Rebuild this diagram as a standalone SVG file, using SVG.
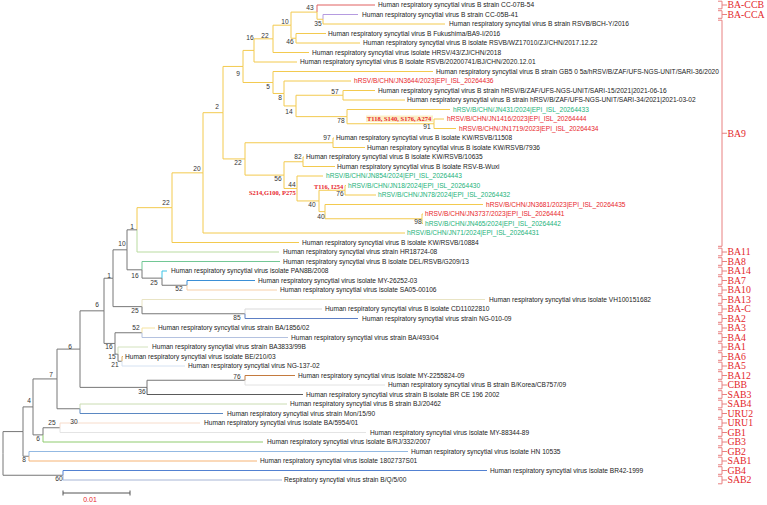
<svg xmlns="http://www.w3.org/2000/svg" width="767" height="505" viewBox="0 0 767 505">
<style>
text{font-family:"Liberation Sans",Arial,sans-serif;}
.lf{font-size:6.6px;fill:#222;}
.lr{font-size:6.6px;fill:#e8262b;}
.lg{font-size:6.6px;fill:#22b27a;}
.bs{font-size:6.6px;fill:#333;text-anchor:middle;}
.mut{font-family:"Liberation Serif","Times New Roman",serif;font-weight:bold;font-size:6.5px;fill:#e8262b;}
.cl{font-family:"Liberation Serif","Times New Roman",serif;font-size:9.8px;fill:#e3262b;}
path{fill:none;stroke-width:1;}
.y{stroke:#f3ca4f;}
.g{stroke:#777;}
.br{stroke:#e88080;}
</style>
<rect width="767" height="505" fill="#fff"/>
<g id="connectors">
<path class="y" d="M323 19.25V24H445"/>
<path d="M323 19.25V14.5H358" stroke="#b59be0"/>
<path d="M317 12.1V5H375" stroke="#e06060"/>
<path class="y" d="M317 12.1V19.25H323"/>
<path class="y" d="M291 25.2V12.1H317M291 25.2V38.25H296"/>
<path class="y" d="M296 38.25V33.5H326M296 38.25V43H360"/>
<path class="y" d="M273 38.84V25.2H291M273 38.84V52.5H309"/>
<path class="y" d="M254 50.42V38.84H273M254 50.42V62H297"/>
<path class="y" d="M243 66.45V50.42H254M243 66.45V82.49H273"/>
<path class="y" d="M273 82.49V71.5H433M273 82.49V93.47H284"/>
<path class="y" d="M284 93.47V81H351M284 93.47V105.94H296"/>
<path class="y" d="M296 105.94V95.25H343M296 105.94V116.63H347"/>
<path class="y" d="M343 95.25V90.5H375M343 95.25V100H405"/>
<path class="y" d="M347 116.63V109.5H450M347 116.63V123.75H434"/>
<path class="y" d="M434 123.75V119H444M434 123.75V128.5H456"/>
<path class="y" d="M223 112.69V66.45H243M223 112.69V158.93H245"/>
<path class="y" d="M245 158.93V142.75H333M245 158.93V175.11H284"/>
<path class="y" d="M333 142.75V138H334M333 142.75V147.5H365"/>
<path class="y" d="M284 175.11V161.75H303M284 175.11V188.47H297"/>
<path class="y" d="M303 161.75V157H304M303 161.75V166.5H335"/>
<path class="y" d="M297 188.47V176H323M297 188.47V200.94H319"/>
<path class="y" d="M319 200.94V190.25H345M319 200.94V211.63H325"/>
<path class="y" d="M345 190.25V185.5H346M345 190.25V195H376"/>
<path class="y" d="M325 211.63V204.5H483M325 211.63V218.75H422"/>
<path class="y" d="M422 218.75V214H423M422 218.75V223.5H423"/>
<path class="y" d="M203 172.85V112.69H223M203 172.85V233H405"/>
<path class="y" d="M172 207.67V172.85H203M172 207.67V242.5H299"/>
<path class="y" d="M137 229.84V207.67H172"/>
<path d="M137 229.84V252H279" stroke="#b9dba0"/>
<path class="g" d="M127 249.82V229.84H137M127 249.82V269.81H142"/>
<path d="M142 269.81V261.5H280" stroke="#72c795"/>
<path class="g" d="M142 269.81V278.13H162"/>
<path d="M162 278.13V271H167" stroke="#3cc3e6"/>
<path class="g" d="M162 278.13V285.25H187"/>
<path d="M187 285.25V280.5H255" stroke="#3b8fd6"/>
<path d="M187 285.25V290H277" stroke="#f7cfa8"/>
<path class="g" d="M113 278.22V249.82H127M113 278.22V306.63H142"/>
<path d="M142 306.63V299.5H485" stroke="#e9e4c4"/>
<path class="g" d="M142 306.63V313.75H245"/>
<path d="M245 313.75V309H322" stroke="#d9d9d9"/>
<path d="M245 313.75V318.5H358" stroke="#5d7fc4"/>
<path class="g" d="M104 310.83V278.22H113M104 310.83V343.44H115"/>
<path class="g" d="M115 343.44V332.75H142M115 343.44V354.13H118"/>
<path d="M142 332.75V328H155" stroke="#f5e3a0"/>
<path d="M142 332.75V337.5H288" stroke="#b4c2e0"/>
<path d="M118 354.13V347H148" stroke="#d3e2bd"/>
<path class="g" d="M118 354.13V361.25H122"/>
<path d="M122 361.25V356.5H123" stroke="#e0b060"/>
<path d="M122 361.25V366H185" stroke="#d5e2f2"/>
<path class="g" d="M80 349.1V310.83H104M80 349.1V387.38H147"/>
<path class="g" d="M147 387.38V380.25H245"/>
<path d="M147 387.38V394.5H303" stroke="#5a5a5a"/>
<path d="M245 380.25V375.5H295" stroke="#c47a3e"/>
<path d="M245 380.25V385H385" stroke="#e2e2e2"/>
<path class="g" d="M57 378.93V349.1H80M57 378.93V408.75H80"/>
<path d="M80 408.75V404H287" stroke="#cadcb2"/>
<path d="M80 408.75V413.5H223" stroke="#5b88c2"/>
<path class="g" d="M33 406.9V378.93H57M33 406.9V434.88H43"/>
<path class="g" d="M43 434.88V427.75H60"/>
<path d="M43 434.88V442H263" stroke="#8fcb6e"/>
<path d="M60 427.75V423H200" stroke="#f7dccb"/>
<path d="M60 427.75V432.5H366" stroke="#e4e4e4"/>
<path class="g" d="M23 431.58V406.9H33M23 431.58V456.25H29"/>
<path d="M29 456.25V451.5H408" stroke="#93b9e2"/>
<path d="M29 456.25V461H257" stroke="#f6b375"/>
<path class="g" d="M3 453.4V431.58H23M3 453.4V475.25H63"/>
<path d="M63 475.25V470.5H487" stroke="#5281d2"/>
<path d="M63 475.25V480H282" stroke="#a8b6d6"/>
<path d="M63 490.5V495.5M63 493H130M130 490.5V495.5" stroke="#555"/>
</g>
<g id="leaves">
<g id="leaf1"><text class="lf" x="378" y="7.3">Human respiratory syncytial virus B strain CC-07B-54</text></g>
<g id="leaf2"><text class="lf" x="362" y="16.8">Human respiratory syncytial virus B strain CC-05B-41</text></g>
<g id="leaf3"><text class="lf" x="449" y="26.3">Human respiratory syncytial virus B strain RSVB/BCH-Y/2016</text></g>
<g id="leaf4"><text class="lf" x="328" y="35.8">Human respiratory syncytial virus B Fukushima/BA9-I/2016</text></g>
<g id="leaf5"><text class="lf" x="363" y="45.3">Human respiratory syncytial virus B isolate RSVB/WZ17010/ZJ/CHN/2017.12.22</text></g>
<g id="leaf6"><text class="lf" x="312" y="54.8">Human respiratory syncytial virus isolate HRSV/43/ZJ/CHN/2018</text></g>
<g id="leaf7"><text class="lf" x="300" y="64.3">Human respiratory syncytial virus B isolate RSVB/20200741/BJ/CHN/2020.12.01</text></g>
<g id="leaf8"><text class="lf" x="436" y="73.8">Human respiratory syncytial virus B strain GB5 0 5a/hRSV/B/ZAF/UFS-NGS-UNIT/SARI-36/2020</text></g>
<g id="leaf9"><text class="lr" x="354" y="83.3">hRSV/B/CHN/JN3644/2023|EPI_ISL_20264436</text></g>
<g id="leaf10"><text class="lf" x="378" y="92.8">Human respiratory syncytial virus B strain hRSV/B/ZAF/UFS-NGS-UNIT/SARI-15/2021|2021-06-16</text></g>
<g id="leaf11"><text class="lf" x="407" y="102.3">Human respiratory syncytial virus B strain hRSV/B/ZAF/UFS-NGS-UNIT/SARI-34/2021|2021-03-02</text></g>
<g id="leaf12"><text class="lg" x="453" y="111.8">hRSV/B/CHN/JN431/2024|EPI_ISL_20264433</text></g>
<g id="leaf13"><text class="lr" x="447" y="121.3">hRSV/B/CHN/JN1416/2023|EPI_ISL_20264444</text></g>
<g id="leaf14"><text class="lr" x="459" y="130.8">hRSV/B/CHN/JN1719/2023|EPI_ISL_20264434</text></g>
<g id="leaf15"><text class="lf" x="336" y="140.3">Human respiratory syncytial virus B isolate KW/RSVB/11508</text></g>
<g id="leaf16"><text class="lf" x="367" y="149.8">Human respiratory syncytial virus B isolate KW/RSVB/7936</text></g>
<g id="leaf17"><text class="lf" x="306" y="159.3">Human respiratory syncytial virus B isolate KW/RSVB/10635</text></g>
<g id="leaf18"><text class="lf" x="337" y="168.8">Human respiratory syncytial virus B isolate RSV-B-Wuxi</text></g>
<g id="leaf19"><text class="lg" x="326" y="178.3">hRSV/B/CHN/JN854/2024|EPI_ISL_20264443</text></g>
<g id="leaf20"><text class="lg" x="348" y="187.8">hRSV/B/CHN/JN18/2024|EPI_ISL_20264430</text></g>
<g id="leaf21"><text class="lg" x="378" y="197.3">hRSV/B/CHN/JN78/2024|EPI_ISL_20264432</text></g>
<g id="leaf22"><text class="lr" x="486" y="206.8">hRSV/B/CHN/JN3681/2023|EPI_ISL_20264435</text></g>
<g id="leaf23"><text class="lr" x="425" y="216.3">hRSV/B/CHN/JN3737/2023|EPI_ISL_20264441</text></g>
<g id="leaf24"><text class="lg" x="425" y="225.8">hRSV/B/CHN/JN465/2024|EPI_ISL_20264442</text></g>
<g id="leaf25"><text class="lg" x="407" y="235.3">hRSV/B/CHN/JN71/2024|EPI_ISL_20264431</text></g>
<g id="leaf26"><text class="lf" x="302" y="244.8">Human respiratory syncytial virus B isolate KW/RSVB/10884</text></g>
<g id="leaf27"><text class="lf" x="283" y="254.3">Human respiratory syncytial virus strain HR18724-08</text></g>
<g id="leaf28"><text class="lf" x="283" y="263.8">Human respiratory syncytial virus B isolate DEL/RSVB/G209/13</text></g>
<g id="leaf29"><text class="lf" x="171" y="273.3">Human respiratory syncytial virus isolate PAN8B/2008</text></g>
<g id="leaf30"><text class="lf" x="258" y="282.8">Human respiratory syncytial virus isolate MY-26252-03</text></g>
<g id="leaf31"><text class="lf" x="280" y="292.3">Human respiratory syncytial virus isolate SA05-00106</text></g>
<g id="leaf32"><text class="lf" x="489" y="301.8">Human respiratory syncytial virus isolate VH100151682</text></g>
<g id="leaf33"><text class="lf" x="325" y="311.3">Human respiratory syncytial virus B isolate CD11022810</text></g>
<g id="leaf34"><text class="lf" x="362" y="320.8">Human respiratory syncytial virus strain NG-010-09</text></g>
<g id="leaf35"><text class="lf" x="158" y="330.3">Human respiratory syncytial virus strain BA/1856/02</text></g>
<g id="leaf36"><text class="lf" x="291" y="339.8">Human respiratory syncytial virus strain BA/493/04</text></g>
<g id="leaf37"><text class="lf" x="152" y="349.3">Human respiratory syncytial virus strain BA3833/99B</text></g>
<g id="leaf38"><text class="lf" x="125" y="358.8">Human respiratory syncytial virus isolate BE/210/03</text></g>
<g id="leaf39"><text class="lf" x="188" y="368.3">Human respiratory syncytial virus NG-137-02</text></g>
<g id="leaf40"><text class="lf" x="298" y="377.8">Human respiratory syncytial virus isolate MY-2255824-09</text></g>
<g id="leaf41"><text class="lf" x="388" y="387.3">Human respiratory syncytial virus B strain B/Korea/CB757/09</text></g>
<g id="leaf42"><text class="lf" x="306" y="396.8">Human respiratory syncytial virus strain B isolate BR CE 196 2002</text></g>
<g id="leaf43"><text class="lf" x="290" y="406.3">Human respiratory syncytial virus B strain BJ/20462</text></g>
<g id="leaf44"><text class="lf" x="227" y="415.8">Human respiratory syncytial virus strain Mon/15/90</text></g>
<g id="leaf45"><text class="lf" x="204" y="425.3">Human respiratory syncytial virus isolate BA/5954/01</text></g>
<g id="leaf46"><text class="lf" x="370" y="434.8">Human respiratory syncytial virus isolate MY-88344-89</text></g>
<g id="leaf47"><text class="lf" x="267" y="444.3">Human respiratory syncytial virus isolate B/RJ/332/2007</text></g>
<g id="leaf48"><text class="lf" x="411" y="453.8">Human respiratory syncytial virus isolate HN 10535</text></g>
<g id="leaf49"><text class="lf" x="260" y="463.3">Human respiratory syncytial virus isolate 1802737S01</text></g>
<g id="leaf50"><text class="lf" x="490" y="472.8">Human respiratory syncytial virus isolate BR42-1999</text></g>
<g id="leaf51"><text class="lf" x="284" y="482.3">Respiratory syncytial virus strain B/Q/5/00</text></g>
</g>
<g id="support">
<text class="bs" x="310" y="10.3">43</text>
<text class="bs" x="318" y="26.3">35</text>
<text class="bs" x="285" y="24.3">10</text>
<text class="bs" x="290" y="44.3">46</text>
<text class="bs" x="265" y="38.3">22</text>
<text class="bs" x="250" y="40.3">16</text>
<text class="bs" x="238" y="76.3">9</text>
<text class="bs" x="268" y="89.3">5</text>
<text class="bs" x="335" y="94.3">57</text>
<text class="bs" x="280" y="100.3">8</text>
<text class="bs" x="289" y="114.3">14</text>
<text class="bs" x="341" y="123.3">78</text>
<text class="bs" x="427" y="129.3">91</text>
<text class="bs" x="217" y="109.3">2</text>
<text class="bs" x="327" y="140.3">97</text>
<text class="bs" x="298" y="159.3">82</text>
<text class="bs" x="238" y="165.3">22</text>
<text class="bs" x="197" y="171.3">20</text>
<text class="bs" x="278" y="181.3">56</text>
<text class="bs" x="292" y="187.3">44</text>
<text class="bs" x="340" y="196.3">76</text>
<text class="bs" x="312" y="207.3">40</text>
<text class="bs" x="321" y="219.3">40</text>
<text class="bs" x="418" y="224.3">98</text>
<text class="bs" x="166" y="205.3">22</text>
<text class="bs" x="132" y="229.3">1</text>
<text class="bs" x="122" y="246.3">10</text>
<text class="bs" x="135" y="278.3">16</text>
<text class="bs" x="154" y="285.3">25</text>
<text class="bs" x="179" y="291.3">52</text>
<text class="bs" x="109" y="278.3">1</text>
<text class="bs" x="135" y="313.3">25</text>
<text class="bs" x="237" y="320.3">85</text>
<text class="bs" x="97" y="307.3">6</text>
<text class="bs" x="136" y="330.3">52</text>
<text class="bs" x="109" y="349.3">16</text>
<text class="bs" x="112" y="359.3">15</text>
<text class="bs" x="115" y="367.3">21</text>
<text class="bs" x="70" y="349.3">6</text>
<text class="bs" x="237" y="379.3">76</text>
<text class="bs" x="142" y="394.3">36</text>
<text class="bs" x="51" y="377.3">7</text>
<text class="bs" x="29" y="403.3">4</text>
<text class="bs" x="74" y="424.3">30</text>
<text class="bs" x="52" y="425.3">25</text>
<text class="bs" x="38" y="441.3">6</text>
<text class="bs" x="24" y="462.3">8</text>
<text class="bs" x="59" y="481.3">60</text>
</g>
<g id="mutations">
<rect x="366" y="115.5" width="67" height="6.5" fill="#fcefc6"/>
<text class="mut" x="367" y="121">T118, S140, S176, A274</text>
<text class="mut" x="314" y="189">T116, I254</text>
<text class="mut" x="249" y="195">S214,G100, P275</text>
</g>
<g id="clades">
<path class="br" d="M718 1.2H722V8.8H718M722 5H727"/>
<path class="br" d="M718 10.7H722V18.3H718M722 14.5H727"/>
<path class="br" d="M718 20.2H722V246.3H718M722 133.25H727"/>
<path class="br" d="M718 248.2H722V255.8H718M722 252H727"/>
<path class="br" d="M718 257.7H722V265.3H718M722 261.5H727"/>
<path class="br" d="M718 267.2H722V274.8H718M722 271H727"/>
<path class="br" d="M718 276.7H722V284.3H718M722 280.5H727"/>
<path class="br" d="M718 286.2H722V293.8H718M722 290H727"/>
<path class="br" d="M718 295.7H722V303.3H718M722 299.5H727"/>
<path class="br" d="M718 305.2H722V312.8H718M722 309H727"/>
<path class="br" d="M718 314.7H722V322.3H718M722 318.5H727"/>
<path class="br" d="M718 324.2H722V331.8H718M722 328H727"/>
<path class="br" d="M718 333.7H722V341.3H718M722 337.5H727"/>
<path class="br" d="M718 343.2H722V350.8H718M722 347H727"/>
<path class="br" d="M718 352.7H722V360.3H718M722 356.5H727"/>
<path class="br" d="M718 362.2H722V369.8H718M722 366H727"/>
<path class="br" d="M718 371.7H722V379.3H718M722 375.5H727"/>
<path class="br" d="M718 381.2H722V388.8H718M722 385H727"/>
<path class="br" d="M718 390.7H722V398.3H718M722 394.5H727"/>
<path class="br" d="M718 400.2H722V407.8H718M722 404H727"/>
<path class="br" d="M718 409.7H722V417.3H718M722 413.5H727"/>
<path class="br" d="M718 419.2H722V426.8H718M722 423H727"/>
<path class="br" d="M718 428.7H722V436.3H718M722 432.5H727"/>
<path class="br" d="M718 438.2H722V445.8H718M722 442H727"/>
<path class="br" d="M718 447.7H722V455.3H718M722 451.5H727"/>
<path class="br" d="M718 457.2H722V464.8H718M722 461H727"/>
<path class="br" d="M718 466.7H722V474.3H718M722 470.5H727"/>
<path class="br" d="M718 476.2H722V483.8H718M722 480H727"/>
<text class="cl" x="727.5" y="8.3">BA-CCB</text>
<text class="cl" x="727.5" y="17.8">BA-CCA</text>
<text class="cl" x="727.5" y="136.55">BA9</text>
<text class="cl" x="727.5" y="255.3">BA11</text>
<text class="cl" x="727.5" y="264.8">BA8</text>
<text class="cl" x="727.5" y="274.3">BA14</text>
<text class="cl" x="727.5" y="283.8">BA7</text>
<text class="cl" x="727.5" y="293.3">BA10</text>
<text class="cl" x="727.5" y="302.8">BA13</text>
<text class="cl" x="727.5" y="312.3">BA-C</text>
<text class="cl" x="727.5" y="321.8">BA2</text>
<text class="cl" x="727.5" y="331.3">BA3</text>
<text class="cl" x="727.5" y="340.8">BA4</text>
<text class="cl" x="727.5" y="350.3">BA1</text>
<text class="cl" x="727.5" y="359.8">BA6</text>
<text class="cl" x="727.5" y="369.3">BA5</text>
<text class="cl" x="727.5" y="378.8">BA12</text>
<text class="cl" x="727.5" y="388.3">CBB</text>
<text class="cl" x="727.5" y="397.8">SAB3</text>
<text class="cl" x="727.5" y="407.3">SAB4</text>
<text class="cl" x="727.5" y="416.8">URU2</text>
<text class="cl" x="727.5" y="426.3">URU1</text>
<text class="cl" x="727.5" y="435.8">GB1</text>
<text class="cl" x="727.5" y="445.3">GB3</text>
<text class="cl" x="727.5" y="454.8">GB2</text>
<text class="cl" x="727.5" y="464.3">SAB1</text>
<text class="cl" x="727.5" y="473.8">GB4</text>
<text class="cl" x="727.5" y="483.3">SAB2</text>
</g>
<g id="scale"><text x="90" y="501.5" font-size="7" fill="#e8262b" text-anchor="middle">0.01</text></g>
</svg>
